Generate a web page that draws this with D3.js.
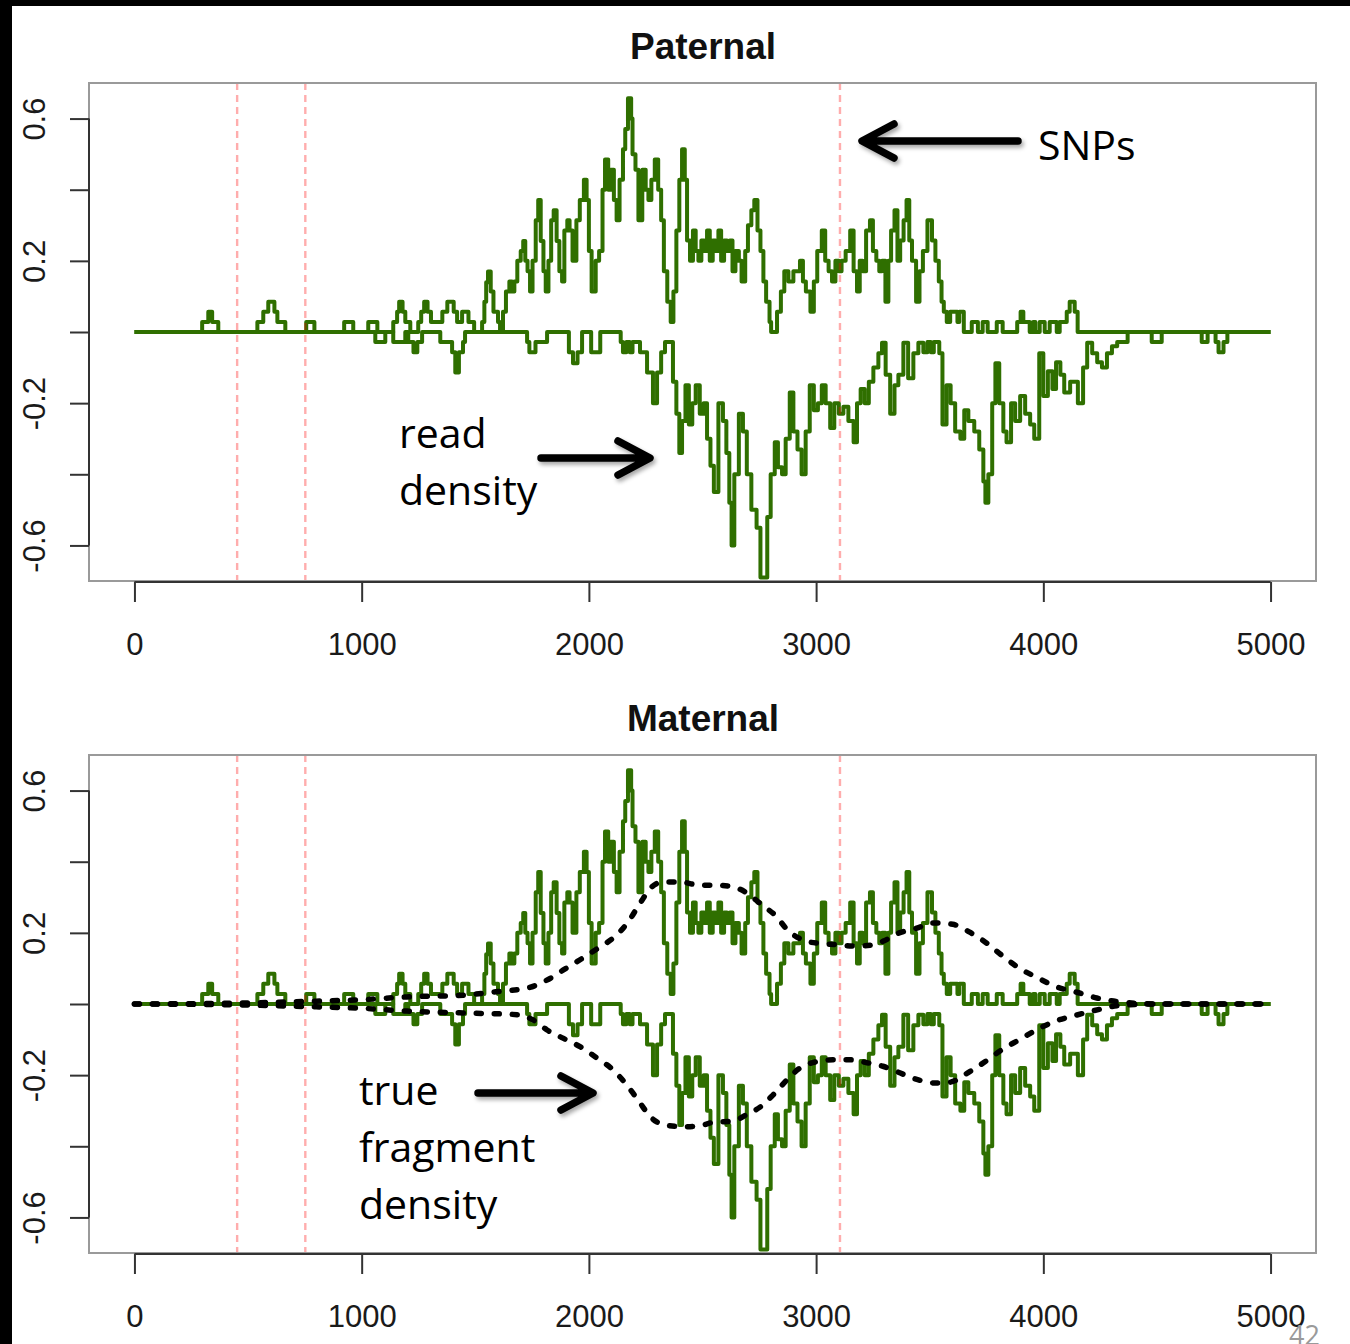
<!DOCTYPE html>
<html>
<head>
<meta charset="utf-8">
<script src="https://cdn.jsdelivr.net/npm/d3@7"></script>
<style>
  html, body { margin: 0; padding: 0; background: #000; }
  svg { display: block; }
</style>
</head>
<body>
<svg id="chart" width="1350" height="1344"></svg>
<script>
// ---- data -------------------------------------------------------------
// Read density on the plus strand: [position (bp), density], step-after
const plusDensity = [
  [0,0],[298,0.028],[325,0.057],[342,0.028],[369,0],
  [541,0.028],[567,0.057],[589,0.085],[616,0.057],[629,0.028],[664,0],
  [756,0.028],[792,0],[923,0.028],[963,0],[1029,0.028],[1069,0],
  [1139,0.028],[1156,0.057],[1165,0.085],[1180,0.057],[1192,0.028],[1214,0],
  [1249,0.028],[1262,0.057],[1275,0.085],[1290,0.057],[1305,0.028],
  [1355,0.057],[1377,0.085],[1405,0.057],[1420,0.028],[1442,0.057],[1470,0.028],[1495,0],
  [1530,0.028],[1540,0.085],[1548,0.14],[1556,0.17],[1568,0.114],[1580,0.057],[1600,0.028],[1609,0],
  [1622,0.057],[1635,0.114],[1650,0.142],[1662,0.114],[1672,0.142],[1685,0.2],[1700,0.228],[1711,0.256],
  [1720,0.2],[1730,0.171],[1741,0.114],[1752,0.2],[1766,0.314],[1777,0.371],[1788,0.256],[1800,0.171],[1810,0.114],
  [1822,0.2],[1834,0.314],[1845,0.342],[1858,0.256],[1870,0.171],[1882,0.142],
  [1892,0.285],[1905,0.314],[1915,0.285],[1928,0.2],[1945,0.314],[1960,0.371],[1978,0.428],[1990,0.371],[2000,0.228],[2012,0.114],
  [2030,0.2],[2045,0.228],[2060,0.4],[2071,0.485],[2085,0.4],[2096,0.456],[2110,0.371],[2122,0.314],
  [2135,0.428],[2150,0.514],[2160,0.571],[2172,0.657],[2186,0.6],[2192,0.5],[2205,0.456],[2218,0.314],
  [2235,0.456],[2250,0.4],[2262,0.371],[2275,0.428],[2290,0.485],[2305,0.4],[2318,0.314],[2330,0.171],[2345,0.085],[2360,0.028],
  [2372,0.114],[2385,0.285],[2398,0.428],[2410,0.514],[2422,0.428],[2432,0.257],[2445,0.2],[2458,0.285],[2470,0.228],[2482,0.2],
  [2495,0.257],[2508,0.228],[2520,0.285],[2532,0.2],[2545,0.257],[2558,0.228],[2570,0.285],[2582,0.2],[2595,0.257],
  [2608,0.228],[2620,0.257],[2632,0.171],[2645,0.228],[2660,0.2],[2672,0.142],
  [2688,0.228],[2700,0.3],[2715,0.342],[2728,0.371],[2742,0.285],[2755,0.228],[2768,0.142],[2780,0.085],[2795,0.028],[2802,0],
  [2828,0.057],[2845,0.114],[2860,0.171],[2878,0.142],[2900,0.171],[2929,0.2],[2942,0.142],[2955,0.114],[2975,0.057],
  [2990,0.142],[3005,0.228],[3025,0.285],[3040,0.2],[3055,0.171],[3070,0.142],[3085,0.2],[3100,0.171],[3112,0.2],
  [3130,0.228],[3150,0.285],[3165,0.171],[3180,0.114],
  [3192,0.2],[3205,0.171],[3220,0.285],[3237,0.314],[3250,0.228],[3265,0.2],[3278,0.171],[3290,0.2],[3305,0.085],
  [3318,0.2],[3330,0.285],[3345,0.342],[3358,0.2],[3370,0.257],[3385,0.314],[3398,0.371],[3410,0.257],[3422,0.2],[3440,0.085],
  [3455,0.171],[3470,0.228],[3490,0.314],[3510,0.257],[3525,0.2],[3540,0.142],[3552,0.085],[3562,0.057],[3575,0.028],
  [3590,0.057],[3622,0.028],[3630,0.057],[3650,0],
  [3685,0.028],[3712,0],[3733,0.028],[3755,0],[3795,0.028],[3821,0],
  [3885,0.028],[3900,0.057],[3912,0.028],[3940,0],[3955,0.028],[3965,0],[3984,0.028],[4006,0],[4028,0.028],[4059,0],
  [4072,0.028],[4103,0.057],[4116,0.085],[4138,0.057],[4151,0],[5000,0]
];

// Read density on the minus strand (drawn below zero)
const minusDensity = [
  [0,0],[1060,-0.028],[1104,0],[1139,-0.028],[1192,0],[1205,-0.028],[1228,-0.057],[1245,-0.028],[1266,0],
  [1346,-0.028],[1398,-0.057],[1412,-0.114],[1428,-0.057],[1446,-0.028],[1455,0],
  [1728,-0.028],[1738,-0.057],[1765,-0.028],[1816,0],
  [1912,-0.057],[1930,-0.088],[1950,-0.057],[1970,0],[2010,-0.057],[2050,0],
  [2140,-0.028],[2150,-0.057],[2165,-0.028],[2180,-0.057],[2192,-0.028],[2225,-0.057],[2256,-0.114],[2282,-0.2],
  [2300,-0.114],[2318,-0.057],[2335,-0.028],
  [2370,-0.14],[2385,-0.23],[2398,-0.34],[2410,-0.25],[2425,-0.15],[2440,-0.26],[2455,-0.2],[2470,-0.15],[2488,-0.23],
  [2505,-0.2],[2520,-0.3],[2535,-0.376],[2550,-0.45],[2570,-0.2],[2590,-0.25],[2605,-0.34],[2618,-0.48],[2628,-0.6],
  [2640,-0.4],[2660,-0.23],[2678,-0.28],[2695,-0.4],[2715,-0.5],[2738,-0.55],[2755,-0.69],[2785,-0.52],[2800,-0.4],
  [2818,-0.31],[2832,-0.38],[2850,-0.4],[2866,-0.3],[2884,-0.17],[2900,-0.28],[2918,-0.33],[2936,-0.4],[2954,-0.28],
  [2972,-0.15],[2990,-0.22],[3008,-0.2],[3025,-0.15],[3042,-0.2],[3062,-0.27],[3080,-0.2],[3100,-0.23],[3120,-0.21],
  [3142,-0.25],[3165,-0.31],[3180,-0.2],[3196,-0.16],[3214,-0.2],[3232,-0.14],[3252,-0.1],[3274,-0.06],[3290,-0.03],
  [3306,-0.12],[3326,-0.23],[3345,-0.15],[3362,-0.12],[3384,-0.03],[3405,-0.13],[3428,-0.06],[3450,-0.03],
  [3472,-0.057],[3490,-0.028],[3505,-0.057],[3518,-0.028],[3542,-0.06],[3556,-0.26],[3574,-0.15],[3592,-0.2],
  [3612,-0.28],[3635,-0.3],[3652,-0.22],[3670,-0.25],[3696,-0.28],[3718,-0.33],[3736,-0.42],[3745,-0.48],[3758,-0.4],
  [3775,-0.2],[3789,-0.088],[3806,-0.2],[3824,-0.28],[3838,-0.31],[3858,-0.2],[3876,-0.25],[3898,-0.18],[3920,-0.23],
  [3942,-0.26],[3960,-0.3],[3982,-0.06],[4000,-0.18],[4020,-0.11],[4040,-0.16],[4056,-0.085],[4075,-0.12],[4092,-0.17],
  [4118,-0.14],[4152,-0.2],[4175,-0.1],[4193,-0.03],[4215,-0.06],[4237,-0.085],[4258,-0.1],[4280,-0.06],[4302,-0.04],
  [4325,-0.028],[4371,0],[4477,-0.028],[4521,0],[4697,-0.028],[4723,0],[4758,-0.028],[4771,-0.057],[4793,-0.028],
  [4810,0],[5000,0]
];

// True fragment density, plus and minus strand (smooth curves)
const truePlus = [
  [0,0],[500,0.003],[800,0.008],[1000,0.012],[1200,0.02],[1450,0.025],[1600,0.035],[1730,0.045],[1815,0.067],
  [1886,0.095],[1970,0.128],[2040,0.157],[2106,0.185],[2172,0.23],[2225,0.283],[2278,0.33],[2326,0.343],[2401,0.343],
  [2489,0.334],[2555,0.334],[2630,0.33],[2700,0.31],[2762,0.278],[2819,0.25],[2876,0.207],[2942,0.18],[3017,0.17],
  [3091,0.167],[3162,0.163],[3237,0.165],[3300,0.178],[3355,0.197],[3443,0.213],[3513,0.228],[3601,0.224],[3676,0.202],
  [3751,0.171],[3821,0.135],[3896,0.1],[3971,0.075],[4059,0.048],[4147,0.033],[4235,0.017],[4336,0.006],[4500,0],[5000,0]
];
const trueMinus = [
  [0,0],[500,-0.003],[800,-0.008],[1000,-0.012],[1200,-0.02],[1500,-0.026],[1684,-0.03],[1755,-0.045],[1816,-0.073],
  [1886,-0.096],[1961,-0.12],[2036,-0.152],[2106,-0.185],[2172,-0.232],[2225,-0.278],[2269,-0.316],[2335,-0.34],
  [2414,-0.345],[2480,-0.343],[2555,-0.332],[2630,-0.33],[2696,-0.31],[2753,-0.29],[2810,-0.256],[2872,-0.213],
  [2929,-0.18],[3004,-0.162],[3074,-0.157],[3149,-0.157],[3223,-0.165],[3294,-0.175],[3355,-0.19],[3443,-0.212],
  [3522,-0.222],[3588,-0.22],[3676,-0.19],[3751,-0.159],[3821,-0.127],[3896,-0.1],[3984,-0.068],[4059,-0.047],
  [4147,-0.031],[4248,-0.015],[4336,-0.004],[4500,0],[5000,0]
];

// SNP positions (bp)
const snpPositions = [452, 752, 3105];

// Axis ticks
const xTicks = [0, 1000, 2000, 3000, 4000, 5000];
const yTicks = [-0.6, -0.4, -0.2, 0, 0.2, 0.4, 0.6];
const yTickLabels = [-0.6, -0.2, 0.2, 0.6];

// ---- drawing ------------------------------------------------------------
const W = 1350, H = 1344;
const svg = d3.select("#chart");

// slide background
svg.append("rect").attr("x", 12).attr("y", 6)
  .attr("width", W - 12).attr("height", H - 6).attr("fill", "#fff");

const defs = svg.append("defs");
const shadow = defs.append("filter").attr("id", "arrowShadow")
  .attr("x", "-20%").attr("y", "-50%").attr("width", "150%").attr("height", "250%");
shadow.append("feDropShadow").attr("dx", 2).attr("dy", 3)
  .attr("stdDeviation", 2).attr("flood-color", "#000").attr("flood-opacity", 0.35);

const x = d3.scaleLinear().domain([-200, 5200]).range([89, 1316]);

const AXIS_FONT = "'Liberation Sans', Arial, Helvetica, sans-serif";
const NOTE_FONT = "'Open Sans', 'Noto Sans', sans-serif";
const GREEN = "#2f6f00";

function drawPanel(idx, top, title, withTrue) {
  const bottom = top + 498;
  const y = d3.scaleLinear().domain([-0.7, 0.7]).range([bottom, top]);
  const g = svg.append("g").attr("class", "panel-" + idx);

  const clipId = "clip" + idx;
  defs.append("clipPath").attr("id", clipId)
    .append("rect").attr("x", 89).attr("y", top).attr("width", 1316 - 89).attr("height", bottom - top);

  const plot = g.append("g").attr("clip-path", `url(#${clipId})`);

  const step = d3.line().x(d => x(d[0])).y(d => y(d[1])).curve(d3.curveStepAfter);
  [plusDensity, minusDensity].forEach(series => {
    plot.append("path").attr("d", step(series))
      .attr("fill", "none").attr("stroke", GREEN)
      .attr("stroke-width", 4).attr("stroke-linejoin", "round");
  });

  if (withTrue) {
    const smooth = d3.line().x(d => x(d[0])).y(d => y(d[1])).curve(d3.curveMonotoneX);
    [truePlus, trueMinus].forEach(series => {
      plot.append("path").attr("d", smooth(series))
        .attr("fill", "none").attr("stroke", "#000")
        .attr("stroke-width", 5.5).attr("stroke-linecap", "round")
        .attr("stroke-dasharray", "5,13");
    });
  }

  // SNP markers
  plot.selectAll("line.snp").data(snpPositions).join("line")
    .attr("class", "snp")
    .attr("x1", d => x(d)).attr("x2", d => x(d))
    .attr("y1", top).attr("y2", bottom)
    .attr("stroke", "rgba(255,0,0,0.32)").attr("stroke-width", 2.4)
    .attr("stroke-dasharray", "7,5");

  // plot frame
  g.append("rect").attr("x", 89).attr("y", top)
    .attr("width", 1316 - 89).attr("height", bottom - top)
    .attr("fill", "none").attr("stroke", "#9a9a9a").attr("stroke-width", 2);

  // x axis
  const xAxis = g.append("g").attr("transform", `translate(0,${bottom + 1})`)
    .call(d3.axisBottom(x).tickValues(xTicks).tickSize(20).tickFormat(d3.format("d")));
  xAxis.select(".domain").remove();
  xAxis.append("line").attr("x1", x(xTicks[0])).attr("x2", x(xTicks[xTicks.length - 1]))
    .attr("stroke", "#333").attr("stroke-width", 2);
  xAxis.selectAll(".tick line").attr("stroke", "#333").attr("stroke-width", 2);
  xAxis.selectAll(".tick text").attr("y", 73).attr("dy", null)
    .attr("fill", "#1a1a1a").style("font-family", AXIS_FONT).style("font-size", "31px");

  // y axis
  const yAxis = g.append("g").attr("transform", "translate(89,0)")
    .call(d3.axisLeft(y).tickValues(yTicks).tickSize(19)
      .tickFormat(d => yTickLabels.includes(d) ? String(d) : ""));
  yAxis.select(".domain").remove();
  yAxis.append("line").attr("y1", y(yTicks[0])).attr("y2", y(yTicks[yTicks.length - 1]))
    .attr("stroke", "#333").attr("stroke-width", 2);
  yAxis.selectAll(".tick line").attr("stroke", "#333").attr("stroke-width", 2);
  yAxis.selectAll(".tick text").attr("x", 0).attr("dy", null)
    .attr("transform", "translate(-44,0) rotate(-90)")
    .attr("text-anchor", "middle")
    .attr("fill", "#1a1a1a").style("font-family", AXIS_FONT).style("font-size", "31px");

  // title
  g.append("text").attr("x", 703).attr("y", top - 24)
    .attr("text-anchor", "middle")
    .style("font-family", AXIS_FONT).style("font-size", "37px").style("font-weight", "bold")
    .attr("fill", "#111").text(title);

  return y;
}

drawPanel(0, 83, "Paternal", false);
drawPanel(1, 755, "Maternal", true);

// ---- annotations ---------------------------------------------------------
function arrow(x0, x1, yy, dir) {
  // dir = -1 points left, +1 points right; x1 is the tip
  const head = 32, spread = 17;
  const path = `M${x0},${yy} L${x1 - dir * 4},${yy} M${x1 - dir * head},${yy - spread} L${x1},${yy} L${x1 - dir * head},${yy + spread}`;
  svg.append("path").attr("d", path)
    .attr("fill", "none").attr("stroke", "#000").attr("stroke-width", 7.5)
    .attr("stroke-linecap", "round").attr("stroke-linejoin", "round")
    .attr("filter", "url(#arrowShadow)");
}

function note(lines, x0, y0) {
  const t = svg.append("text").attr("x", x0).attr("y", y0)
    .style("font-family", NOTE_FONT).style("font-size", "41px").attr("fill", "#000");
  lines.forEach((s, i) => t.append("tspan").attr("x", x0).attr("dy", i === 0 ? 0 : 57).text(s));
}

arrow(1018, 862, 141, -1);
note(["SNPs"], 1038, 160);

arrow(541, 650, 458, 1);
note(["read", "density"], 399, 448);

arrow(478, 593, 1093, 1);
note(["true", "fragment", "density"], 359, 1105);

// slide number
svg.append("text").attr("x", 1289).attr("y", 1345)
  .style("font-family", NOTE_FONT).style("font-size", "27px").attr("fill", "#9a9a9a").text("42");
</script>
</body>
</html>
